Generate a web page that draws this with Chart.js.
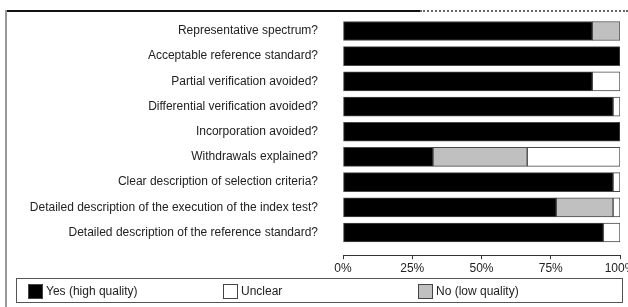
<!DOCTYPE html>
<html>
<head>
<meta charset="utf-8">
<script src="https://cdn.jsdelivr.net/npm/chart.js@4.4.0/dist/chart.umd.min.js"></script>
<style>
  html, body { margin: 0; padding: 0; background: #fff; overflow: hidden; }
  body { width: 628px; height: 307px; position: relative; font-family: "Liberation Sans", Arial, sans-serif; }
  #wrap { position: absolute; left: 0; top: 0; width: 640px; height: 307px; }
  .frame-top { position: absolute; left: 5px; top: 10px; width: 415px; height: 0; border-top: 2px solid #111; }
  .frame-top-dash { position: absolute; left: 420px; top: 10px; width: 208px; height: 0; border-top: 2px dotted #666; }
  .frame-left { position: absolute; left: 5px; top: 10px; width: 0; height: 297px; border-left: 2px solid #999; }
  #legend { position: absolute; left: 16px; top: 278px; width: 605px; height: 23px; border: 1px solid #555; box-sizing: content-box; }
  .item { position: absolute; top: 4px; height: 16px; display: flex; align-items: center; font-size: 12px; color: #222; white-space: nowrap; }
  .swatch { width: 15px; height: 15px; border: 1px solid #444; box-sizing: border-box; margin-right: 3px; }
</style>
</head>
<body>
<div class="frame-top"></div>
<div class="frame-top-dash"></div>
<div class="frame-left"></div>
<div id="wrap"><canvas id="chart" width="640" height="307"></canvas></div>
<div id="legend"></div>
<script>
  // questions (top to bottom)
  const categories = [
    'Representative spectrum?',
    'Acceptable reference standard?',
    'Partial verification avoided?',
    'Differential verification avoided?',
    'Incorporation avoided?',
    'Withdrawals explained?',
    'Clear description of selection criteria?',
    'Detailed description of the execution of the index test?',
    'Detailed description of the reference standard?'
  ];

  // percent of studies
  const yesValues = [90, 100, 90, 97.5, 100, 32.5, 97.5, 77, 94];
  const noValues = [10, null, null, null, null, 34, null, 20.5, null];
  const unclearValues = [null, null, 10, 2.5, null, 33.5, 2.5, 2.5, 6];

  const xTicks = [0, 25, 50, 75, 100];

  const seriesNames = ['Yes (high quality)', 'No (low quality)', 'Unclear'];
  const seriesColors = ['#000000', '#c0c0c0', '#ffffff'];
  const legendOrder = [0, 2, 1];
  const legendLeft = [11, 206, 401];

  function toPoints(values) {
    return values.map((v, i) => ({ x: v, y: i }));
  }

  const datasets = [yesValues, noValues, unclearValues].map((vals, k) => ({
    label: seriesNames[k],
    data: toPoints(vals),
    backgroundColor: seriesColors[k],
    borderColor: '#4a4a4a',
    borderWidth: 1,
    borderSkipped: false,
    stack: 'q',
    barThickness: 19
  }));

  const ctx = document.getElementById('chart').getContext('2d');
  new Chart(ctx, {
    type: 'bar',
    data: { datasets },
    options: {
      indexAxis: 'y',
      responsive: false,
      animation: false,
      events: [],
      layout: { padding: { left: 0, right: 20, top: 18.4, bottom: 21.8 } },
      plugins: { legend: { display: false }, tooltip: { enabled: false } },
      scales: {
        x: {
          type: 'linear',
          stacked: true,
          min: 0,
          max: 100,
          afterBuildTicks: (s) => { s.ticks = xTicks.map((v) => ({ value: v })); },
          afterFit: (s) => { s.height = 30; },
          grid: { drawOnChartArea: false, tickLength: 4, color: '#333' },
          border: { display: true, color: '#333', width: 1 },
          ticks: {
            padding: 2,
            color: '#222',
            font: { family: '"Liberation Sans", Arial, sans-serif', size: 12 },
            callback: (v) => v + '%'
          }
        },
        y: {
          type: 'linear',
          reverse: true,
          offset: false,
          min: -0.5,
          max: 8.9,
          afterBuildTicks: (s) => { s.ticks = categories.map((c, i) => ({ value: i })); },
          afterFit: (s) => {
            s.width = 343;
            s.paddingTop = 0;
            s.paddingBottom = 0;
          },
          grid: { display: false, drawTicks: false, offset: false },
          border: { display: false },
          ticks: {
            padding: 25,
            color: '#222',
            font: { family: '"Liberation Sans", Arial, sans-serif', size: 12 },
            callback: (v) => categories[v] || ''
          }
        }
      }
    }
  });

  // legend built from the same series arrays
  const legend = document.getElementById('legend');
  legendOrder.forEach((k, j) => {
    const item = document.createElement('div');
    item.className = 'item';
    item.style.left = legendLeft[j] + 'px';
    const sw = document.createElement('span');
    sw.className = 'swatch';
    sw.style.background = seriesColors[k];
    const txt = document.createElement('span');
    txt.textContent = seriesNames[k];
    item.appendChild(sw);
    item.appendChild(txt);
    legend.appendChild(item);
  });
</script>
</body>
</html>
